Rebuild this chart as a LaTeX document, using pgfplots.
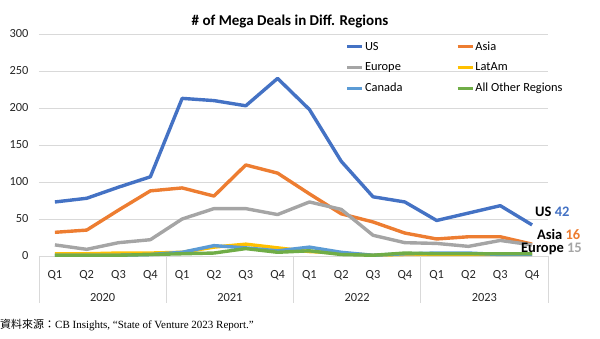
\documentclass[border=0pt]{standalone}
\usepackage{pgfplots}
\pgfplotsset{compat=1.18}
\usepackage{fontspec}
\setmainfont{Carlito}
\newfontfamily\cjk{Noto Sans CJK TC}
\newfontfamily\srf{Liberation Serif}
\definecolor{cUS}{HTML}{4472C4}
\definecolor{cAsia}{HTML}{ED7D31}
\definecolor{cEur}{HTML}{A5A5A5}
\definecolor{cLat}{HTML}{FFC000}
\definecolor{cCan}{HTML}{5B9BD5}
\definecolor{cOth}{HTML}{70AD47}
\definecolor{gridc}{HTML}{D9D9D9}
\begin{document}
\begin{tikzpicture}
\path (0pt,0pt) rectangle (600pt,339pt);
\begin{axis}[
  at={(39pt,83pt)}, anchor=south west,
  width=509pt, height=222pt, scale only axis,
  xmin=-0.5, xmax=15.5, ymin=0, ymax=300,
  xtick={0,...,15},
  xticklabels={Q1,Q2,Q3,Q4,Q1,Q2,Q3,Q4,Q1,Q2,Q3,Q4,Q1,Q2,Q3,Q4},
  ytick={0,50,...,300},
  major tick length=0pt,
  axis line style={draw=none},
  ymajorgrids, major grid style={gridc, line width=0.8pt},
  /pgf/number format/assume math mode=true,
  tick label style={font=\fontsize{12.4}{14}\selectfont, text=black!85},
  yticklabel style={xshift=-7pt},
  xticklabel style={yshift=-10.5pt},
  clip=false,
  every axis plot/.append style={line width=3.4pt, line join=round, no markers},
  legend columns=2,
  legend cell align=left,
  legend image code/.code={\draw[#1] (0pt,0pt) -- (15pt,0pt);},
  legend style={at={(rel axis cs:0.602,0.975)}, anchor=north west, draw=none, fill=none,
    inner sep=0pt, row sep=7pt,
    font=\fontsize{12.4}{14}\selectfont,
    nodes={inner xsep=1pt}},
]
\addplot[cUS] coordinates {(0,73)(1,78)(2,93)(3,107)(4,213)(5,210)(6,203)(7,240)(8,198)(9,128)(10,80)(11,73)(12,48)(13,58)(14,68)(15,42)};
\addlegendentry{\makebox[90pt][l]{US}}
\addplot[cAsia] coordinates {(0,32)(1,35)(2,62)(3,88)(4,92)(5,81)(6,123)(7,112)(8,84)(9,57)(10,46)(11,31)(12,23)(13,26)(14,26)(15,16)};
\addlegendentry{Asia}
\addplot[cEur] coordinates {(0,15)(1,9)(2,18)(3,22)(4,50)(5,64)(6,64)(7,56)(8,73)(9,63)(10,28)(11,18)(12,17)(13,13)(14,21)(15,15)};
\addlegendentry{Europe}
\addplot[cLat] coordinates {(0,3)(1,3)(2,4)(3,4)(4,5)(5,12)(6,16)(7,11)(8,6)(9,4)(10,1)(11,2)(12,2)(13,2)(14,2)(15,2)};
\addlegendentry{LatAm}
\addplot[cCan] coordinates {(0,1)(1,1)(2,1)(3,2)(4,5)(5,14)(6,11)(7,7)(8,12)(9,5)(10,1)(11,3)(12,4)(13,4)(14,2)(15,2)};
\addlegendentry{Canada}
\addplot[cOth] coordinates {(0,1)(1,1)(2,1)(3,2)(4,3)(5,4)(6,10)(7,5)(8,7)(9,2)(10,1)(11,4)(12,3)(13,3)(14,3)(15,3)};
\addlegendentry{All Other Regions}
% year separators
\draw[gridc, line width=0.8pt] (axis cs:-0.5,0) -- ++(0pt,-47pt);
\draw[gridc, line width=0.8pt] (axis cs:3.5,0) -- ++(0pt,-47pt);
\draw[gridc, line width=0.8pt] (axis cs:7.5,0) -- ++(0pt,-47pt);
\draw[gridc, line width=0.8pt] (axis cs:11.5,0) -- ++(0pt,-47pt);
\draw[gridc, line width=0.8pt] (axis cs:15.5,0) -- ++(0pt,-47pt);
\node[font=\fontsize{12.4}{14}\selectfont, text=black!85] at ([yshift=-41.5pt]axis cs:1.5,0) {2020};
\node[font=\fontsize{12.4}{14}\selectfont, text=black!85] at ([yshift=-41.5pt]axis cs:5.5,0) {2021};
\node[font=\fontsize{12.4}{14}\selectfont, text=black!85] at ([yshift=-41.5pt]axis cs:9.5,0) {2022};
\node[font=\fontsize{12.4}{14}\selectfont, text=black!85] at ([yshift=-41.5pt]axis cs:13.5,0) {2023};
\node[anchor=west, font=\bfseries\fontsize{14.5}{16}\selectfont, inner sep=0pt] at (axis cs:15.09,59.5) {US \textcolor{cUS}{42}};
\node[anchor=west, font=\bfseries\fontsize{14.5}{16}\selectfont, inner sep=0pt] at (axis cs:15.15,29.7) {Asia \textcolor{cAsia}{16}};
\node[anchor=west, font=\bfseries\fontsize{14.5}{16}\selectfont, inner sep=0pt] at (axis cs:14.65,9.5) {Europe \textcolor{cEur}{15}};
\end{axis}
\node[font=\bfseries\fontsize{15}{17}\selectfont] at (290pt,317.5pt) {\# of Mega Deals in Diff. Regions};
\node[anchor=base west, inner sep=0pt, font=\fontsize{11}{13}\selectfont] at (0pt,10pt) {{\cjk 資料來源：}{\srf CB Insights, “State of Venture 2023 Report.”}};
\end{tikzpicture}
\end{document}
